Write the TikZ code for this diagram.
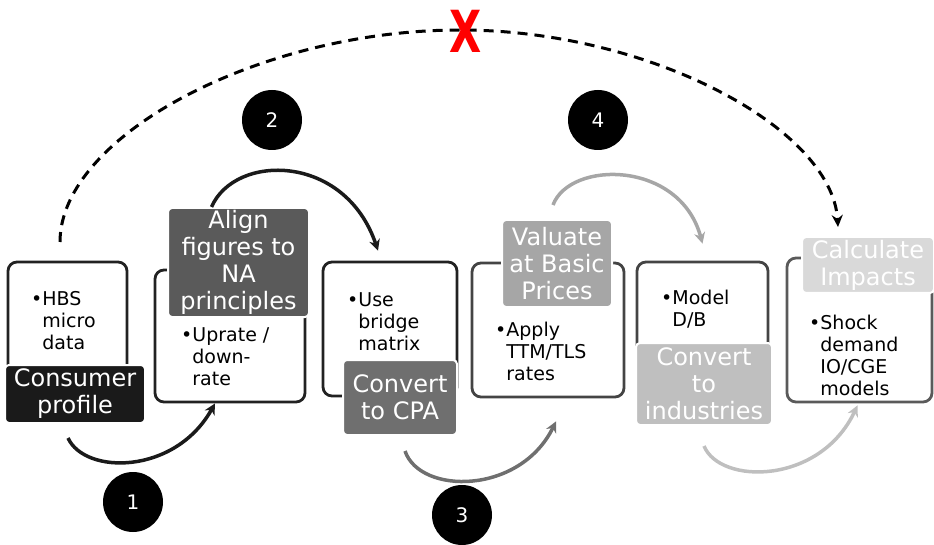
\documentclass[tikz,border=0pt]{standalone}
\usepackage{fontspec}
\setmainfont{DejaVu Sans}
\usetikzlibrary{calc,arrows.meta}

\definecolor{shadeA}{HTML}{1A1A1A}
\definecolor{shadeB}{HTML}{5A5A5A}
\definecolor{shadeC}{HTML}{6F6F6F}
\definecolor{shadeD}{HTML}{A6A6A6}
\definecolor{shadeE}{HTML}{BFBFBF}
\definecolor{shadeF}{HTML}{D9D9D9}
\definecolor{rimdark}{HTML}{222222}
\definecolor{rimmid}{HTML}{444444}
\definecolor{rimlight}{HTML}{5A5A5A}

\begin{document}
\begin{tikzpicture}[x=1pt,y=-1pt,
    card/.style={draw=#1,fill=white,line width=2.8pt,rounded corners=9pt},
    tag/.style={fill=#1,draw=white,line width=2pt,rounded corners=4pt,
      text=white,align=center,inner sep=1pt,
      font=\fontsize{24}{27}\selectfont},
    bullets/.style={anchor=north west,align=left,inner sep=0pt,
      font=\fontsize{19}{22}\selectfont},
    badge/.style={circle,fill=black,text=white,minimum size=60pt,
      inner sep=0pt,font=\fontsize{20}{24}\selectfont},
    flow/.style={draw=#1,line width=3.5pt,
      -{Stealth[length=11pt,width=11pt]}}]
          %\draw[very thin,lightgray] (0,0) grid[step=50] (934,545);
          \useasboundingbox (0,0) rectangle (934,545);
          % white cards
          \node[card=rimdark,minimum width=119pt,minimum height=138pt]
          (B1) at (67.5,331) {};
          \node[card=rimdark,minimum width=150pt,minimum height=132pt]
          (B2) at (230,336) {};
          \node[card=rimdark,minimum width=134pt,minimum height=134pt]
          (B3) at (390,329) {};
          \node[card=rimmid,minimum width=152pt,minimum height=134pt]
          (B4) at (548,330) {};
          \node[card=rimmid,minimum width=131pt,minimum height=138pt]
          (B5) at (702.5,331) {};
          \node[card=rimlight,minimum width=145pt,minimum height=144pt]
          (B6) at (859.5,330) {};
          % step titles
          \node[tag=shadeA,minimum width=140pt,minimum height=58pt]
          (L1) at (75,394) {Consumer\\profile};
          \node[tag=shadeB,minimum width=141pt,minimum height=109pt]
          (L2) at (238.5,262.5) {Align\\figures to\\NA\\principles};
          \node[tag=shadeC,minimum width=114pt,minimum height=75pt]
          (L3) at (400,397.5) {Convert\\to CPA};
          \node[tag=shadeD,minimum width=110pt,minimum height=87pt]
          (L4) at (557,263.5) {Valuate\\at Basic\\Prices};
          \node[tag=shadeE,minimum width=136pt,minimum height=82pt]
          (L5) at (704,384) {Convert\\to\\industries};
          \node[tag=shadeF,minimum width=132pt,minimum height=56pt]
          (L6) at (868,265) {Calculate\\Impacts};
          % bullet points
          \node[bullets] (T1) at (31,291)
          {•HBS\\\phantom{•}micro\\\phantom{•}data};
          \node[bullets] (T2) at (181,327)
          {•Uprate /\\\phantom{•}down-\\\phantom{•}rate};
          \node[bullets] (T3) at (347,292)
          {•Use\\\phantom{•}bridge\\\phantom{•}matrix};
          \node[bullets] (T4) at (495,322)
          {•Apply\\\phantom{•}TTM/TLS\\\phantom{•}rates};
          \node[bullets] (T5) at (661,290)
          {•Model\\\phantom{•}D/B};
          \node[bullets] (T6) at (809,315)
          {•Shock\\\phantom{•}demand\\\phantom{•}IO/CGE\\\phantom{•}models};
          % step numbers
          \node[badge] (N1) at (133,502) {1};
          \node[badge] (N2) at (272,120) {2};
          \node[badge] (N3) at (462,515) {3};
          \node[badge] (N4) at (598,120) {4};
          % arrows between the steps
          \draw[flow=shadeA] ([xshift=-7pt,yshift=-14pt]L1.south)
          .. controls (85,475) and (175,475) .. ([xshift=-15pt]B2.south);
          \draw[flow=shadeA] ([xshift=-27pt]L2.north)
          .. controls (235,153) and (345,153) ..
          ([xshift=-12pt,yshift=10pt]B3.north);
          \draw[flow=shadeC] ([xshift=5pt,yshift=-15pt]L3.south)
          .. controls (420,495) and (520,495) ..
          ([xshift=8pt,yshift=-23pt]B4.south);
          \draw[flow=shadeD] ([xshift=-4pt,yshift=14pt]L4.north)
          .. controls (570,160) and (680,160) .. ([yshift=17pt]B5.north);
          \draw[flow=shadeE] ([yshift=-20pt]L5.south)
          .. controls (720,485) and (820,485) ..
          ([xshift=-2pt,yshift=-2pt]B6.south);
          % the skipped route
          \coordinate (skipfrom) at (60,242);
          \coordinate (skiptop) at (460,30);
          \coordinate (skipto) at (838,227);
          \draw[line width=3pt,dash pattern=on 10pt off 7pt,
            -{Stealth[length=12pt,width=11pt]}] (skipfrom)
          .. controls (60,136) and (260,30) .. (skiptop)
          .. controls (649,30) and (832,128) .. (skipto);
          \node[text=red,font=\bfseries\fontsize{58}{58}\selectfont,
            xscale=0.72,inner sep=0pt] (X) at (466,31) {X};
\end{tikzpicture}
\end{document}
